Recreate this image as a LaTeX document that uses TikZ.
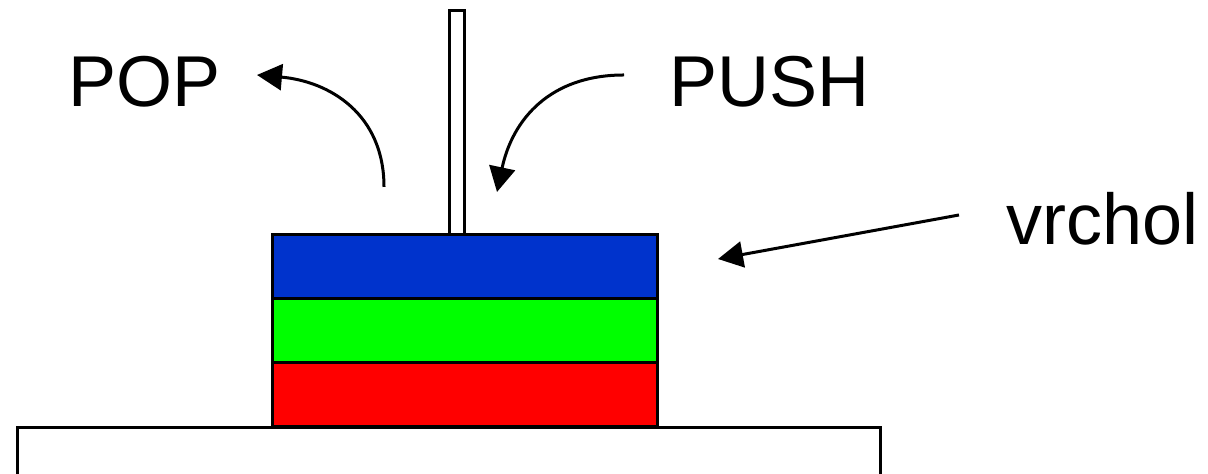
\documentclass[tikz,border=0pt]{standalone}
\usepackage{fontspec}
\setmainfont{Liberation Sans}
\usepackage{xcolor}
\usepackage{tikz}
\usetikzlibrary{arrows.meta,positioning}

\definecolor{stackblue}{RGB}{0,51,204}
\definecolor{stackgreen}{RGB}{0,255,0}
\definecolor{stackred}{RGB}{255,0,0}

\begin{document}
\begin{tikzpicture}[
	x=0.5pt, y=0.5pt,
	line width=1.5pt,
	every node/.style = {inner sep=0pt, anchor=base west,
	font=\fontsize{36}{43}\selectfont},
	layer/.style = {draw=black},
	move/.style = {-{Triangle[length=12.5pt,width=13pt]}}
]
\useasboundingbox (0,0) rectangle (1208,474);

% base and rod
\draw (17,0) -- (17,46) -- (880,46) -- (880,0);
\draw[fill=white] (449,239) rectangle (464,463);

% stack
\draw[layer, fill=stackred] (272,47) rectangle (657,111);
\draw[layer, fill=stackgreen] (272,111) rectangle (657,175);
\draw[layer, fill=stackblue] (272,175) rectangle (657,239);

% labels
\node (pop) at (67,367) {POP};
\node (push) at (668,367) {PUSH};
\node (top) at (1005,229) {vrchol};

% arrows
\coordinate (popfrom) at (384,287);
\coordinate (popto) at (257,399);
\coordinate (pushfrom) at (624,399);
\coordinate (pushto) at (497,282);
\coordinate (topfrom) at (959,259);
\coordinate (topto) at (718,215);

\draw[move] (popfrom) to[out=90, in=-5, looseness=1.1] (popto);
\draw[move] (pushfrom) to[out=180, in=78, looseness=1.1] (pushto);
\draw[move] (topfrom) -- (topto);
\end{tikzpicture}
\end{document}
